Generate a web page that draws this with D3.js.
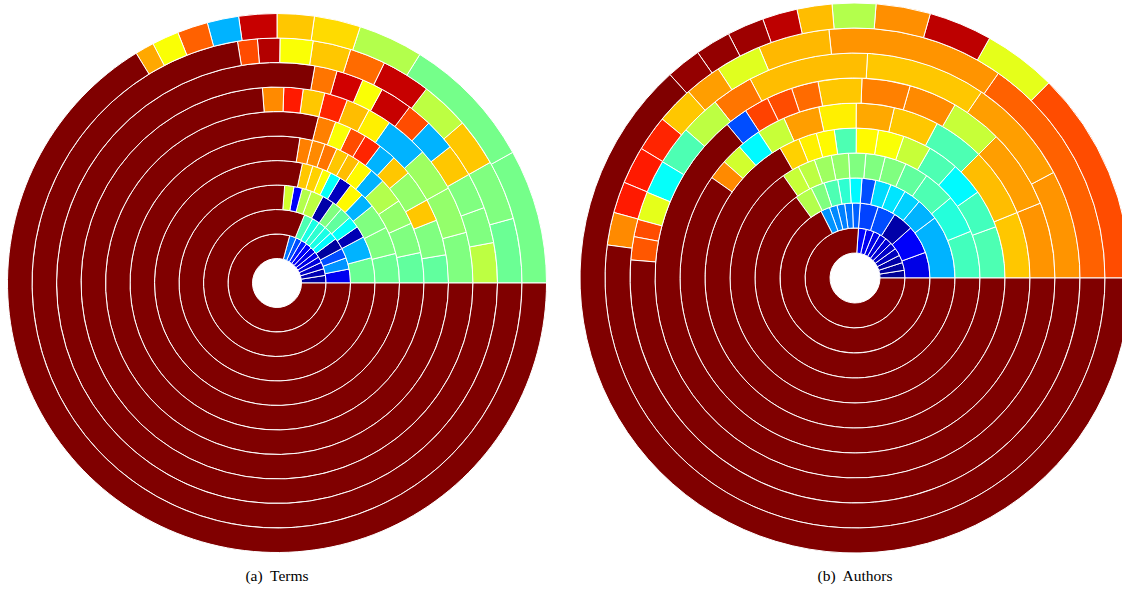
<!DOCTYPE html>
<html>
<head>
<meta charset="utf-8">
<script src="https://cdn.jsdelivr.net/npm/d3@7"></script>
<style>
  body { margin: 0; background: #fff; }
  svg { display: block; }
  .caption { font-family: "Liberation Serif", "Times New Roman", serif; font-size: 15.5px; fill: #000; white-space: pre; }
</style>
</head>
<body>
<svg id="chart" width="1122" height="591"></svg>
<script>
// Cells of each ring: [startDeg, endDeg, level]; angles run counter-clockwise from 3 o'clock,
// level is the position on the jet colour scale (0 = dark blue, 1 = dark red).
// Whatever part of a ring is not listed is filled with level 1.

// (a) Terms
const termsRing1 = [[0,9,0.03],[9,17,0.05],[17,25,0.07],[25,32,0.09],[32,39,0.1],[39,46,0.1],[46,53,0.12],[53,60,0.15],[60,67,0.2],[67,75,0.24]];
const termsRing2 = [[0,11,0.11],[11,20,0.27],[20,28,0.2],[28,37,0.03],[37,43,0.37],[43,49,0.4],[49,55,0.42],[55,61,0.4],[61,68,0.45]];
const termsRing3 = [[0,15,0.48],[15,28,0.3],[28,35,0.05],[35,42,0.38],[42,49,0.47],[49,55,0.5],[55,62,0.04],[62,69.5,0.56],[69.5,75,0.55],[75,80,0.12],[80,85.5,0.58]];
const termsRing4 = [[0,14,0.48],[14,27,0.5],[27,39,0.5],[39,46,0.3],[46,53,0.63],[53,59,0.06],[59,64,0.38],[64,68,0.62],[68,73,0.67],[73,78,0.68]];
const termsRing5 = [[0,12,0.47],[12,24,0.5],[24,34,0.52],[34,44,0.55],[44,50,0.3],[50,56,0.63],[56,61,0.69],[61,66,0.68],[66,71,0.76],[71,76,0.74],[76,81,0.75]];
const termsRing6 = [[0,9.5,0.47],[9.5,21.5,0.5],[21.5,29,0.68],[29,40,0.52],[40,47,0.68],[47,53,0.3],[53,59,0.84],[59,64.5,0.8],[64.5,70,0.62],[70,76,0.75]];
const termsRing7 = [[0,15,0.5],[15,29,0.52],[29,42,0.53],[42,55,0.3],[55,62,0.64],[62,69,0.69],[69,75.9,0.84],[75.9,82.3,0.68],[82.3,88,0.85],[88,94.3,0.74]];
const termsRing8 = [[0,10.6,0.56],[10.6,20,0.5],[20,29.5,0.5],[29.5,38.2,0.68],[38.2,46.5,0.3],[46.5,53,0.8],[53,61.5,0.93],[61.5,67.1,0.62],[67.1,74.2,0.92],[74.2,80.1,0.76]];
const termsRing9 = [[0,15.3,0.48],[15.3,29.5,0.5],[29.5,40.8,0.68],[40.8,52.4,0.56],[52.4,64,0.93],[64,72.5,0.77],[72.5,81.5,0.68],[81.5,89.3,0.62],[89.3,94.6,0.95],[94.6,99.3,0.8]];
const termsRing10 = [[0,29,0.49],[29,58,0.49],[58,72,0.55],[72,82,0.66],[82,90,0.68],[90,98.2,0.93],[98.2,105,0.3],[105,111.6,0.78],[111.6,117.4,0.62],[117.4,121.5,0.71]];

// (b) Authors
const authorsRing1 = [[0,9,0.02],[9,18,0.03],[18,27,0.04],[27,36,0.06],[36,44,0.07],[44,52,0.08],[52,60,0.09],[60,68,0.1],[68,77,0.11],[77,86,0.13]];
const authorsRing2 = [[0,20,0.1],[20,42,0.12],[42,58,0.04],[58,72,0.2],[72,86,0.19],[86,92,0.22],[92,98,0.24],[98,104,0.25],[104,110,0.26],[110,117,0.27]];
const authorsRing3 = [[0,37,0.3],[37,50,0.3],[50,60,0.33],[60,69,0.35],[69,78,0.34],[78,86,0.2],[86,93,0.37],[93,100,0.42],[100,108,0.45],[108,116,0.5],[116,126,0.55]];
const authorsRing4 = [[0,22,0.44],[22,40,0.41],[40,55,0.45],[55,66,0.47],[66,76,0.5],[76,85,0.5],[85,93,0.5],[93,101,0.52],[101,109,0.53],[109,117,0.56],[117,125,0.57]];
const authorsRing5 = [[0,20,0.45],[20,35,0.44],[35,48,0.37],[48,60,0.45],[60,71,0.57],[71,81,0.62],[81,89.5,0.63],[89.5,98,0.45],[98,105,0.63],[105,112,0.64],[112,120,0.67]];
const authorsRing6 = [[0,22,0.68],[22,45,0.69],[45,62,0.45],[62,77,0.68],[77,89.6,0.71],[89.6,102,0.64],[102,114,0.72],[114,123.5,0.57],[123.5,131.4,0.37],[131.4,138.4,0.58],[138.4,145,0.74]];
const authorsRing7 = [[0,22,0.73],[22,45,0.72],[45,60,0.57],[60,74,0.74],[74,88,0.75],[88,100.7,0.68],[100.7,108.5,0.77],[108.5,116,0.8],[116,123.2,0.81],[123.2,129.8,0.2]];
const authorsRing8 = [[0,28,0.73],[28,55.8,0.72],[55.8,86.8,0.68],[86.8,117.8,0.69],[117.8,128.5,0.76],[128.5,138.8,0.56],[138.8,148.9,0.45],[148.9,157.6,0.38],[157.6,164.9,0.6],[164.9,169.4,0.8],[169.4,175.4,0.79]];
const authorsRing9 = [[0,55,0.78],[55,96,0.73],[96,112.6,0.695],[112.6,123.2,0.595],[123.2,131.8,0.72],[131.8,140.5,0.68],[140.5,148.8,0.84],[148.8,157.5,0.85],[157.5,164.8,0.85],[164.8,172.4,0.74]];
const authorsRing10 = [[0,45.2,0.8],[45.2,60.7,0.6],[60.7,74.1,0.94],[74.1,85.6,0.735],[85.6,94.8,0.55],[94.8,102.2,0.69],[102.2,109.6,0.94],[109.6,117.4,0.97],[117.4,124.9,0.98],[124.9,132.3,0.98]];

const captions = ["(a)  Terms", "(b)  Authors"];

const termsRings = [termsRing1, termsRing2, termsRing3, termsRing4, termsRing5,
                    termsRing6, termsRing7, termsRing8, termsRing9, termsRing10];
const authorsRings = [authorsRing1, authorsRing2, authorsRing3, authorsRing4, authorsRing5,
                      authorsRing6, authorsRing7, authorsRing8, authorsRing9, authorsRing10];

// jet colour map
const jet = t => {
  const c = x => Math.max(0, Math.min(1, x));
  return d3.rgb(255 * c(1.5 - Math.abs(4 * t - 3)),
                255 * c(1.5 - Math.abs(4 * t - 2)),
                255 * c(1.5 - Math.abs(4 * t - 1))).formatHex();
};
const color = d3.scaleSequential(jet).domain([0, 1]);

// degrees counter-clockwise from 3 o'clock -> d3 arc angle (clockwise from 12 o'clock)
const angle = d3.scaleLinear().domain([0, 360]).range([Math.PI / 2, Math.PI / 2 - 2 * Math.PI]);

const svg = d3.select("#chart");

function drawDisc(rings, cx, cy, ringWidth, caption, captionY) {
  const radius = d3.scaleLinear().domain([0, 1]).range([0, ringWidth]);
  const cells = [];
  rings.forEach((ring, i) => {
    const level = i + 1;
    ring.forEach(([a0, a1, v]) => cells.push({ level, a0, a1, v }));
    const last = d3.max(ring, d => d[1]) || 0;
    cells.push({ level, a0: last, a1: 360, v: 1 });
  });

  const arc = d3.arc()
    .innerRadius(d => radius(d.level))
    .outerRadius(d => radius(d.level + 1))
    .startAngle(d => angle(d.a1))
    .endAngle(d => angle(d.a0));

  const g = svg.append("g").attr("transform", `translate(${cx},${cy})`);
  g.selectAll("path")
    .data(cells)
    .join("path")
    .attr("d", arc)
    .attr("fill", d => color(d.v))
    .attr("stroke", "#fff")
    .attr("stroke-width", 1)
    .attr("stroke-linejoin", "round");

  svg.append("text")
    .attr("class", "caption")
    .attr("x", cx)
    .attr("y", captionY)
    .attr("text-anchor", "middle")
    .text(caption);
}

drawDisc(termsRings, 277, 283, 24.5, captions[0], 580.5);
drawDisc(authorsRings, 855, 278, 25, captions[1], 580.5);
</script>
</body>
</html>
